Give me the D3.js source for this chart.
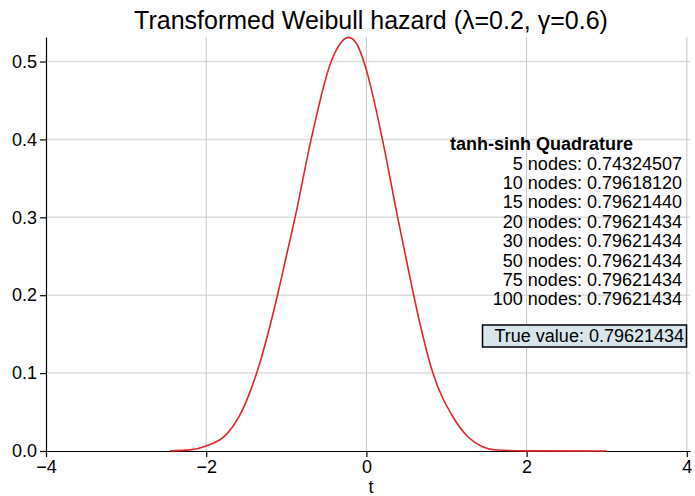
<!DOCTYPE html>
<html>
<head>
<meta charset="utf-8">
<script src="https://cdn.jsdelivr.net/npm/d3@7/dist/d3.min.js"></script>
<style>
  body{ margin:0; background:#fff; }
  text{ font-family:"Liberation Sans", Arial, sans-serif; fill:#000; }
  .grid-v line{ stroke:#c4c4c4; stroke-width:1px; }
  .grid-h line{ stroke:#dcdcdc; stroke-width:1.5px; }
  .axis path, .axis line{ stroke:#000; stroke-width:1.2px; }
  .curve{ fill:none; stroke:#e3262a; stroke-width:1.6px; }
</style>
</head>
<body>
<div id="chart"></div>
<script>
// curve
var ts   = [-2.45, -2.2, -2.0, -1.75, -1.59, -1.37, -1.11, -1.0, -0.89, -0.69, -0.44, -0.33, -0.225, -0.12, -0.033, 0.0, 0.2, 0.39, 0.49, 0.59, 0.83, 1.08, 1.27, 1.45, 1.62, 2.0, 3.0];
var vals = [0.0002, 0.0015, 0.0065, 0.021, 0.044, 0.100, 0.200, 0.250, 0.300, 0.400, 0.500, 0.5225, 0.531, 0.5225, 0.500, 0.489, 0.400, 0.300, 0.250, 0.200, 0.100, 0.044, 0.018, 0.0055, 0.0013, 0.0001, 0.0];

var xTicks = [-4, -2, 0, 2, 4];
var yTicks = [0.0, 0.1, 0.2, 0.3, 0.4, 0.5];

var quadNodes  = [5, 10, 15, 20, 30, 50, 75, 100];
var quadValues = ["0.74324507", "0.79618120", "0.79621440", "0.79621434", "0.79621434", "0.79621434", "0.79621434", "0.79621434"];
var trueValue = "0.79621434";

var W = 695, H = 496;
var svg = d3.select("#chart").append("svg").attr("width", W).attr("height", H);

var x = d3.scaleLinear().domain([-4, 4.04]).range([46, 690]);
var y = d3.scaleLinear().domain([0, 0.5315]).range([451, 37]);

// grid
svg.append("g").attr("class", "grid-h")
  .selectAll("line").data(yTicks.slice(1)).enter().append("line")
  .attr("x1", x(-4)).attr("x2", x(4.04))
  .attr("y1", function(d){return y(d)}).attr("y2", function(d){return y(d)});
svg.append("g").attr("class", "grid-v")
  .selectAll("line").data(xTicks.slice(1)).enter().append("line")
  .attr("x1", function(d){return x(d)}).attr("x2", function(d){return x(d)})
  .attr("y1", y(0)).attr("y2", y(0.5315));

// axes
var xAxis = svg.append("g").attr("class", "axis")
  .attr("transform", "translate(0," + y(0) + ")")
  .call(d3.axisBottom(x).tickValues(xTicks).tickFormat(d3.format("d")).tickSize(6).tickSizeOuter(0));
xAxis.selectAll("text").style("font-size", "18px").attr("y", 8).attr("dy", "0.78em");

var yAxis = svg.append("g").attr("class", "axis")
  .attr("transform", "translate(" + x(-4) + ",0)")
  .call(d3.axisLeft(y).tickValues(yTicks).tickFormat(d3.format(".1f")).tickSize(6).tickSizeOuter(0));
yAxis.selectAll("text").style("font-size", "18px").attr("x", -9);

// curve
var pts = ts.map(function(t, i){ return [t, vals[i]]; });
svg.append("path").attr("class", "curve")
  .datum(pts)
  .attr("d", d3.line().x(function(d){return x(d[0])}).y(function(d){return y(d[1])}).curve(d3.curveMonotoneX));

// title + axis label
svg.append("text").attr("x", 371).attr("y", 29).attr("text-anchor", "middle")
  .style("font-size", "25px").text("Transformed Weibull hazard (\u03bb=0.2, \u03b3=0.6)");
svg.append("text").attr("x", 371).attr("y", 493).attr("text-anchor", "middle")
  .style("font-size", "18px").text("t");

// annotation
svg.append("text").attr("x", 450).attr("y", 150).style("font-size", "18px").style("font-weight", "bold")
  .text("tanh-sinh Quadrature");
svg.selectAll(".qline").data(quadNodes).enter().append("text")
  .attr("class", "qline")
  .attr("x", 682).attr("y", function(d, i){ return 169.5 + i * 19.4; })
  .attr("text-anchor", "end").style("font-size", "18px")
  .text(function(d, i){ return d + " nodes: " + quadValues[i]; });

svg.append("rect").attr("x", 482.5).attr("y", 325).attr("width", 204).attr("height", 22)
  .attr("fill", "#d8e6ec").attr("stroke", "#000").attr("stroke-width", 1.5);
svg.append("text").attr("x", 684).attr("y", 342).attr("text-anchor", "end").style("font-size", "18px")
  .text("True value: " + trueValue);
</script>
</body>
</html>
